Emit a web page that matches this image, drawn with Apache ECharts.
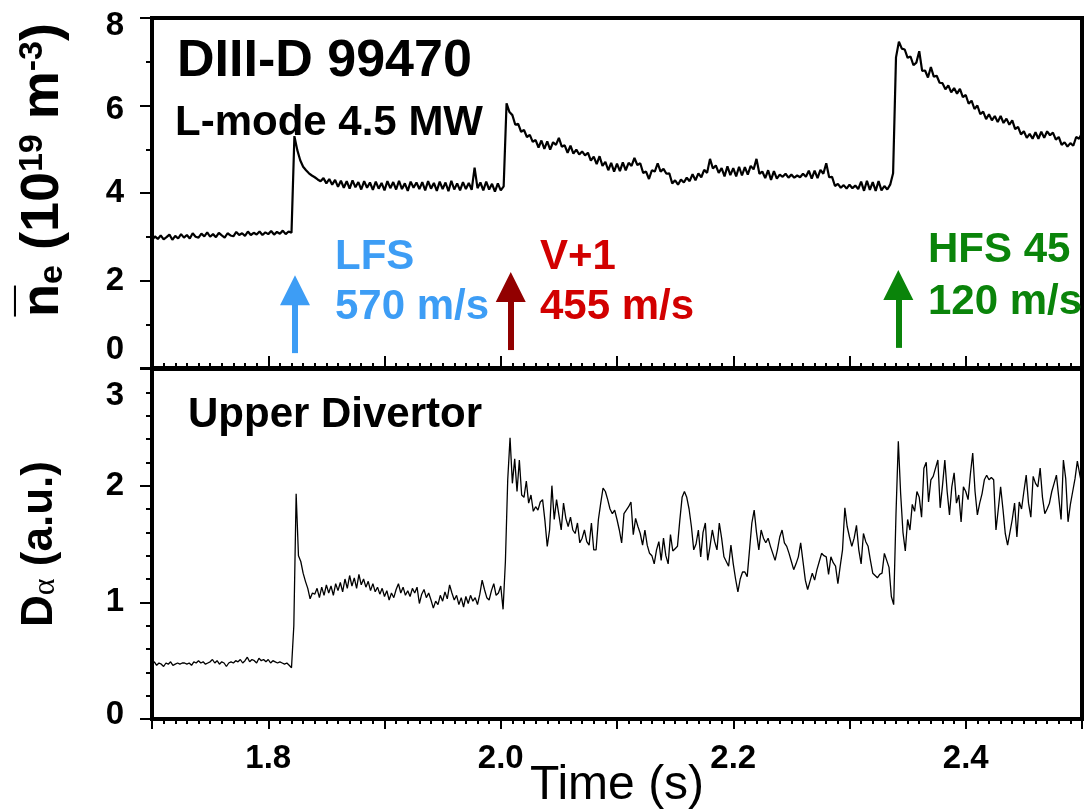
<!DOCTYPE html>
<html><head><meta charset="utf-8">
<script src="https://cdn.jsdelivr.net/npm/echarts@6/dist/echarts.min.js"></script>
<style>html,body{margin:0;padding:0;background:#fff}#c{width:1091px;height:811px}</style>
</head><body><div id="c"></div>
<script>
// ---------------- data ----------------
const timeStart = 1.70;          // s, first sample of both traces
const neStep = 0.0025;           // s, sampling of the density trace
// line-averaged density (10^19 m^-3), one row per 0.01 s
const neValues = [
 2.92,3.01,2.95,3.03, 2.94,2.99,3.05,2.93, 3.02,2.96,3.06,2.98, 3.04,2.96,3.08,3.00, 2.98,3.07,3.01,3.10, // 1.70-1.74
 3.00,3.06,2.99,3.09, 3.03,2.98,3.08,3.03, 3.01,3.11,3.04,3.08, 3.02,3.12,3.04,3.09, 3.05,3.12,3.04,3.10, // 1.75-1.79
 3.06,3.13,3.05,3.11, 3.07,3.14,3.06,3.12, 3.09,5.30,4.98,4.75, 4.60,4.52,4.45,4.40, 4.36,4.31,4.27,4.34, // 1.80-1.84
 4.22,4.32,4.19,4.30, 4.14,4.28,4.12,4.27, 4.10,4.29,4.13,4.25, 4.08,4.27,4.12,4.24, 4.07,4.26,4.10,4.23, // 1.85-1.89
 4.06,4.27,4.11,4.25, 4.08,4.28,4.09,4.22, 4.05,4.26,4.12,4.24, 4.09,4.25,4.06,4.27, 4.10,4.23,4.05,4.26, // 1.90-1.94
 4.09,4.24,4.04,4.28, 4.08,4.22,4.06,4.25, 4.09,4.23,4.07,4.58, 4.11,4.24,4.06,4.26, 4.08,4.21,4.03,4.22, // 1.95-1.99
 4.06,4.15,6.05,5.85, 5.78,5.56,5.58,5.40, 5.44,5.28,5.33,5.17, 5.21,5.04,5.20,5.01, 5.18,4.99,5.16,5.10, // 2.00-2.04
 5.26,5.06,5.09,4.92, 5.08,4.90,4.99,4.88, 4.95,4.86,4.92,4.74, 4.83,4.66,4.84,4.62, 4.71,4.52,4.69,4.49, // 2.05-2.09
 4.67,4.50,4.70,4.52, 4.69,4.62,4.80,4.64, 4.68,4.46,4.49,4.32, 4.52,4.49,4.68,4.49, 4.55,4.44,4.45,4.22, // 2.10-2.14
 4.29,4.19,4.31,4.24, 4.35,4.27,4.43,4.29, 4.45,4.36,4.53,4.46, 4.78,4.56,4.63,4.46, 4.57,4.38,4.61,4.41, // 2.15-2.19
 4.57,4.38,4.60,4.40, 4.59,4.42,4.62,4.54, 4.78,4.44,4.49,4.34, 4.52,4.30,4.50,4.33, 4.42,4.37,4.44,4.35, // 2.20-2.24
 4.42,4.35,4.40,4.36, 4.44,4.37,4.51,4.33, 4.51,4.34,4.53,4.44, 4.68,4.36,4.37,4.16, 4.21,4.12,4.18,4.10, // 2.25-2.29
 4.19,4.11,4.17,4.09, 4.26,4.05,4.28,4.07, 4.25,4.05,4.27,4.06, 4.16,4.08,4.19,4.45, 7.10,7.46,7.30,7.28, // 2.30-2.34
 7.09,7.12,6.92,6.98, 7.24,6.79,6.80,6.64, 6.88,6.66,6.68,6.52, 6.51,6.37,6.46,6.30, 6.40,6.27,6.38,6.19, // 2.35-2.39
 6.24,6.04,6.11,5.92, 6.00,5.80,5.86,5.69, 5.80,5.66,5.76,5.62, 5.76,5.60,5.70,5.56, 5.66,5.46,5.51,5.34, // 2.40-2.44
 5.41,5.26,5.35,5.24, 5.39,5.24,5.40,5.26, 5.41,5.32,5.38,5.22, 5.28,5.10,5.16,5.06, 5.14,5.08,5.28,5.24, // 2.45-2.49
 5.37                                                                                                   // 2.50
];
const daStep = 0.002;            // s, sampling of the D-alpha trace
// upper divertor D-alpha (a.u.), one row per 0.01 s
const daValues = [
 0.47,0.49,0.46,0.48,0.47, 0.45,0.48,0.47,0.49,0.46, 0.47,0.48,0.47,0.48,0.48, 0.47,0.48,0.46,0.49,0.48, 0.50,0.48,0.49,0.47,0.48, // 1.70-1.74
 0.49,0.51,0.48,0.50,0.47, 0.49,0.48,0.45,0.48,0.49, 0.48,0.50,0.49,0.51,0.48, 0.50,0.53,0.49,0.51,0.50, 0.48,0.52,0.50,0.51,0.49, // 1.75-1.79
 0.51,0.48,0.50,0.49,0.48, 0.49,0.48,0.47,0.48,0.46, 0.44,0.80,1.93,1.40,1.35, 1.25,1.18,1.12,1.03,1.08, 1.07,1.12,1.04,1.13,1.06, // 1.80-1.84
 1.15,1.08,1.14,1.06,1.16, 1.10,1.17,1.09,1.20,1.12, 1.23,1.14,1.21,1.12,1.24, 1.15,1.20,1.13,1.18,1.10, 1.16,1.09,1.13,1.07,1.12, // 1.85-1.89
 1.05,1.10,1.02,1.08,1.04, 1.11,1.16,1.08,1.13,1.06, 1.10,1.05,1.12,1.08,1.13, 0.99,1.07,1.11,1.04,1.08, 1.02,0.95,1.01,0.98,1.06, // 1.90-1.94
 1.01,1.09,1.03,1.15,1.08, 1.02,1.06,0.98,1.04,0.96, 1.05,0.99,1.06,1.01,1.04, 0.98,1.07,1.19,1.11,1.04, 1.02,1.10,1.16,1.06,1.08, // 1.95-1.99
 1.14,0.94,1.35,2.05,2.41, 2.02,2.23,1.95,2.22,1.92, 1.90,2.04,1.85,1.92,1.78, 1.82,1.79,1.86,1.88,1.70, 1.48,1.62,2.00,1.71,1.88, // 2.00-2.04
 1.75,1.62,1.85,1.72,1.65, 1.73,1.62,1.59,1.68,1.51, 1.55,1.62,1.52,1.49,1.68, 1.45,1.45,1.71,1.85,1.98, 1.95,1.88,1.80,1.76,1.79, // 2.05-2.09
 1.71,1.62,1.51,1.76,1.79, 1.82,1.86,1.58,1.72,1.65, 1.59,1.49,1.62,1.49,1.42, 1.40,1.33,1.45,1.52,1.36, 1.55,1.40,1.33,1.58,1.44, // 2.10-2.14
 1.46,1.48,1.70,1.90,1.95, 1.90,1.80,1.65,1.45,1.50, 1.62,1.39,1.60,1.68,1.36, 1.48,1.62,1.52,1.45,1.68, 1.55,1.39,1.35,1.31,1.49, // 2.15-2.19
 1.33,1.20,1.09,1.20,1.26, 1.26,1.22,1.45,1.68,1.79, 1.60,1.45,1.62,1.55,1.51, 1.55,1.48,1.42,1.36,1.45, 1.56,1.62,1.51,1.48,1.42, // 2.20-2.24
 1.35,1.28,1.33,1.39,1.51, 1.35,1.19,1.11,1.18,1.25, 1.19,1.28,1.35,1.42,1.40, 1.39,1.24,1.39,1.34,1.31, 1.16,1.31,1.45,1.81,1.65, // 2.25-2.29
 1.56,1.48,1.55,1.66,1.45, 1.33,1.59,1.52,1.48,1.36, 1.25,1.23,1.21,1.24,1.25, 1.42,1.36,1.30,1.05,0.98, 1.76,2.38,1.93,1.60,1.44, // 2.30-2.34
 1.71,1.62,1.84,1.78,1.95, 1.90,1.73,2.15,2.20,1.86, 2.05,2.08,2.15,2.22,1.81, 2.00,2.22,1.95,1.75,1.99, 2.11,1.85,1.92,1.69,1.99, // 2.35-2.39
 1.95,1.88,2.10,2.28,1.95, 1.75,1.85,1.93,2.05,2.09, 2.05,2.07,2.05,1.62,1.80, 1.99,1.80,1.59,1.49,1.60, 1.71,1.85,1.56,1.86,1.80, // 2.40-2.44
 1.95,2.09,1.85,1.73,2.08, 2.02,1.99,2.15,1.90,1.76, 1.80,1.85,1.95,2.02,2.09, 1.90,1.71,2.22,2.06,1.69, 1.84,1.95,2.06,2.21,2.10, // 2.45-2.49
 2.00                                                                                                                             // 2.50
];
const xTickLabels = ['1.8', '2.0', '2.2', '2.4'];
const neTickLabels = ['0', '2', '4', '6', '8'];
const daTickLabels = ['0', '1', '2', '3'];
const injTimes = [1.823, 2.0086, 2.342];                 // pellet injection times (s)
const injNames = ['LFS', 'V+1', 'HFS 45'];
const injSpeeds = ['570 m/s', '455 m/s', '120 m/s'];

// ---------------- styling / layout ----------------
const FONT = '"Liberation Sans", Arial, Helvetica, sans-serif';
const arrowColors = ['#3d9df5', '#920000', '#0a840a'];
const injTextColors = ['#3d9df5', '#d20000', '#0a840a'];
const arrowBase = [0.34, 0.41, 0.46];
const arrowHead = [1.78, 1.85, 1.90];
const injTextPos = [[335, 257, 307], [540, 257, 307], [928, 250, 302]];

const neData = neValues.map((v, i) => [+(timeStart + i * neStep).toFixed(4), v]);
const daData = daValues.map((v, i) => [+(timeStart + i * daStep).toFixed(4), v]);

function shiftRich(shifts, size) {
  const rich = {};
  Object.keys(shifts).forEach(k => {
    const s = shifts[k];
    rich['s' + k] = {
      fontSize: size, fontWeight: 'bold', fontFamily: FONT, color: '#000',
      padding: s > 0 ? [2 * s, 0, 0, 0] : [0, 0, -2 * s, 0]
    };
  });
  return rich;
}
const neShift = { '0': -18, '6': 4, '8': 8 };
const daShift = { '0': -4, '3': 27 };
function yFormatter(labels, shifts) {
  return function (v) {
    const s = String(Math.round(v * 1000) / 1000);
    if (labels.indexOf(s) < 0) return '';
    return shifts[s] !== undefined ? '{s' + s + '|' + s + '}' : s;
  };
}

const tickStyle = { color: '#000', width: 2 };
const labelStyle = { color: '#000', fontSize: 33, fontWeight: 'bold', fontFamily: FONT };

const chart = echarts.init(document.getElementById('c'), null, { renderer: 'canvas' });
chart.setOption({
  animation: false,
  backgroundColor: '#fff',
  grid: [
    { left: 152, top: 18, width: 930, height: 350, containLabel: false, outerBoundsMode: 'none',
      show: true, borderColor: '#000', borderWidth: 4, backgroundColor: 'transparent' },
    { left: 152, top: 369, width: 930, height: 350, containLabel: false, outerBoundsMode: 'none',
      show: true, borderColor: '#000', borderWidth: 4, backgroundColor: 'transparent' }
  ],
  xAxis: [
    { type: 'value', gridIndex: 0, min: 1.7, max: 2.5, interval: 0.1,
      axisLine: { show: false }, splitLine: { show: false },
      axisTick: { show: true, inside: true, length: 12, lineStyle: tickStyle },
      minorTick: { show: true, splitNumber: 10, length: 5, lineStyle: tickStyle },
      axisLabel: { show: false } },
    { type: 'value', gridIndex: 1, min: 1.7, max: 2.5, interval: 0.1,
      axisLine: { show: false }, splitLine: { show: false },
      axisTick: { show: true, inside: false, length: 10, lineStyle: tickStyle },
      minorTick: { show: true, splitNumber: 10, length: 5, lineStyle: tickStyle },
      axisLabel: Object.assign({ margin: 23, formatter: v => { const s = v.toFixed(1); return xTickLabels.indexOf(s) >= 0 ? s : ''; } }, labelStyle),
      name: 'Time (s)', nameLocation: 'middle', nameGap: 43, nameMoveOverlap: false,
      nameTextStyle: { color: '#000', fontSize: 48, fontWeight: 'normal', fontFamily: FONT } }
  ],
  yAxis: [
    { type: 'value', gridIndex: 0, min: 0, max: 8, interval: 2,
      axisLine: { show: false }, splitLine: { show: false },
      axisTick: { show: true, inside: false, length: 12, lineStyle: tickStyle },
      minorTick: { show: true, splitNumber: 2, length: 6, lineStyle: tickStyle },
      axisLabel: Object.assign({ margin: 28, formatter: yFormatter(neTickLabels, neShift), rich: shiftRich(neShift, 33) }, labelStyle),
      name: '{n|n\u0305}{e|e} {n|(10}{s|19}{n| m}{s|-3}{n|)}',
      nameLocation: 'middle', nameGap: 82, nameMoveOverlap: false,
      nameTextStyle: { color: '#000', fontSize: 54, fontWeight: 'bold', fontFamily: FONT, padding: [0, 0, 0, 46],
        rich: {
          n: { fontSize: 54, fontWeight: 'bold', fontFamily: FONT, color: '#000' },
          e: { fontSize: 34, fontWeight: 'bold', fontFamily: FONT, color: '#000', verticalAlign: 'bottom' },
          s: { fontSize: 34, fontWeight: 'bold', fontFamily: FONT, color: '#000', verticalAlign: 'top' }
        } } },
    { type: 'value', gridIndex: 1, min: 0, max: 3, interval: 1,
      axisLine: { show: false }, splitLine: { show: false },
      axisTick: { show: true, inside: false, length: 12, lineStyle: tickStyle },
      minorTick: { show: true, splitNumber: 5, length: 6, lineStyle: tickStyle },
      axisLabel: Object.assign({ margin: 28, formatter: yFormatter(daTickLabels, daShift), rich: shiftRich(daShift, 33) }, labelStyle),
      name: '{d|D}{a|\u03b1}{d| (a.u.)}',
      nameLocation: 'middle', nameGap: 90, nameMoveOverlap: false,
      nameTextStyle: { color: '#000', fontSize: 44, fontWeight: 'bold', fontFamily: FONT,
        rich: {
          d: { fontSize: 44, fontWeight: 'bold', fontFamily: FONT, color: '#000' },
          a: { fontSize: 32, fontWeight: 'normal', fontFamily: '"Liberation Serif", "DejaVu Serif", serif', color: '#000', verticalAlign: 'bottom' }
        } } }
  ],
  series: [
    { name: 'ne', type: 'line', xAxisIndex: 0, yAxisIndex: 0, data: neData, showSymbol: false,
      lineStyle: { color: '#000', width: 2.2 }, silent: true,
      markLine: { silent: true, animation: false, symbol: ['none', 'triangle'], symbolSize: 30, label: { show: false },
        data: injTimes.map((t, i) => [
          { coord: [t, arrowBase[i]], lineStyle: { color: arrowColors[i], width: 6, type: 'solid' }, itemStyle: { color: arrowColors[i] } },
          { coord: [t, arrowHead[i]], symbol: 'triangle', symbolSize: 30, lineStyle: { color: arrowColors[i], width: 6, type: 'solid' }, itemStyle: { color: arrowColors[i] } }
        ]) } },
    { name: 'Dalpha', type: 'line', xAxisIndex: 1, yAxisIndex: 1, data: daData, showSymbol: false,
      lineStyle: { color: '#000', width: 1.3 }, silent: true }
  ],
  graphic: [].concat(
    [
      { type: 'text', x: 177, y: 62, style: { text: 'DIII-D 99470', font: 'bold 52px ' + FONT, fill: '#000', verticalAlign: 'middle' } },
      { type: 'text', x: 175, y: 123, style: { text: 'L-mode 4.5 MW', font: 'bold 42px ' + FONT, fill: '#000', verticalAlign: 'middle' } },
      { type: 'text', x: 188, y: 415, style: { text: 'Upper Divertor', font: 'bold 42px ' + FONT, fill: '#000', verticalAlign: 'middle' } }
    ],
    injNames.map((n, i) => ({ type: 'text', x: injTextPos[i][0], y: injTextPos[i][1],
      style: { text: n, font: 'bold 42px ' + FONT, fill: injTextColors[i], verticalAlign: 'middle' } })),
    injSpeeds.map((n, i) => ({ type: 'text', x: injTextPos[i][0], y: injTextPos[i][2],
      style: { text: n, font: 'bold 42px ' + FONT, fill: injTextColors[i], verticalAlign: 'middle' } }))
  )
});
</script></body></html>
